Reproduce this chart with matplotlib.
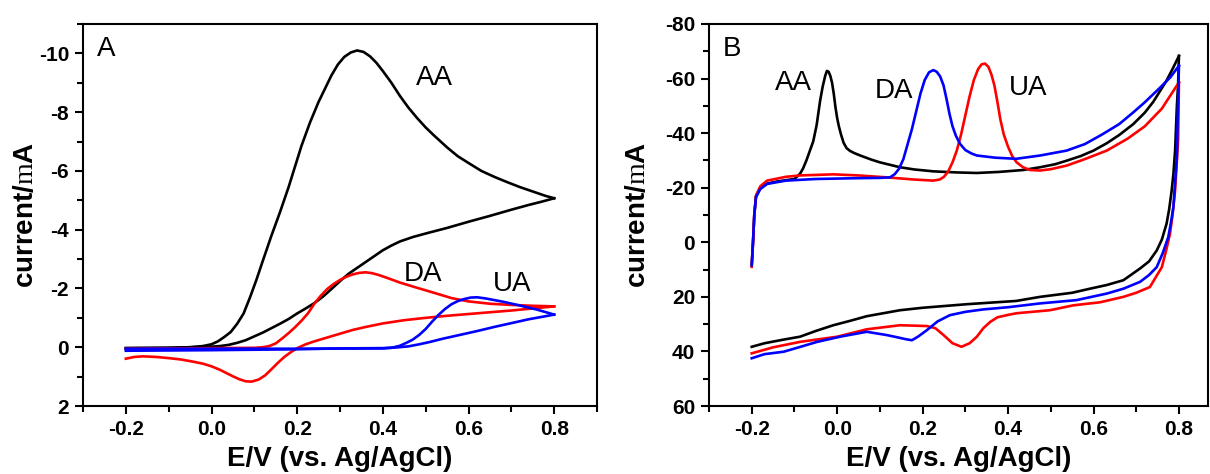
import numpy as np
import matplotlib
matplotlib.use("Agg")
import matplotlib.pyplot as plt
from matplotlib.ticker import FixedLocator, FormatStrFormatter

plt.rcParams['font.family'] = ['Liberation Sans', 'DejaVu Sans']
plt.rcParams['axes.unicode_minus'] = False
plt.rcParams['mathtext.fontset'] = 'custom'
plt.rcParams['mathtext.rm'] = 'Liberation Serif'

# ---------------- Panel A data (E/V, current) ----------------
a_aa_fwd_x = [-0.20, -0.10, -0.05, -0.02, 0.00, 0.015, 0.03, 0.045, 0.06, 0.075, 0.09, 0.105, 0.12, 0.14,
              0.16, 0.18, 0.195, 0.21, 0.23, 0.25, 0.265, 0.28, 0.295, 0.31, 0.325, 0.34, 0.355, 0.37,
              0.385, 0.40, 0.42, 0.44, 0.46, 0.48, 0.50, 0.52, 0.55, 0.575, 0.60, 0.63, 0.66, 0.69, 0.72,
              0.75, 0.78, 0.80]
a_aa_fwd_y = [0.03, 0.02, 0.0, -0.04, -0.1, -0.2, -0.35, -0.52, -0.8, -1.15, -1.7, -2.3, -2.95, -3.8,
              -4.6, -5.45, -6.15, -6.85, -7.65, -8.35, -8.8, -9.25, -9.62, -9.88, -10.03, -10.1, -10.05, -9.9,
              -9.68, -9.4, -9.0, -8.55, -8.15, -7.8, -7.48, -7.2, -6.8, -6.5, -6.27, -6.0, -5.8, -5.62, -5.45,
              -5.3, -5.15, -5.07]
a_aa_rev_x = [0.80, 0.77, 0.74, 0.70, 0.65, 0.60, 0.55, 0.50, 0.47, 0.44, 0.42, 0.40, 0.38, 0.36, 0.34,
              0.32, 0.30, 0.28, 0.26, 0.24, 0.22, 0.20, 0.18, 0.16, 0.14, 0.12, 0.10, 0.08, 0.06, 0.04,
              0.02, 0.0, -0.1, -0.2]
a_aa_rev_y = [-5.07, -4.95, -4.84, -4.68, -4.47, -4.27, -4.06, -3.87, -3.75, -3.6, -3.46, -3.3, -3.1, -2.9,
              -2.7, -2.5, -2.25, -1.98, -1.72, -1.5, -1.32, -1.15, -0.96, -0.8, -0.65, -0.5, -0.37, -0.24,
              -0.15, -0.08, -0.04, -0.02, 0.02, 0.03]

a_da_fwd_x = [-0.20, 0.00, 0.10, 0.12, 0.135, 0.15, 0.165, 0.18, 0.195, 0.21, 0.225, 0.24, 0.255, 0.27,
              0.285, 0.30, 0.315, 0.33, 0.345, 0.36, 0.375, 0.39, 0.41, 0.44, 0.476, 0.52, 0.561, 0.60,
              0.65, 0.70, 0.75, 0.80]
a_da_fwd_y = [0.05, 0.03, 0.02, 0.0, -0.04, -0.13, -0.3, -0.48, -0.68, -0.9, -1.15, -1.48, -1.75, -1.98,
              -2.15, -2.29, -2.4, -2.48, -2.53, -2.55, -2.52, -2.46, -2.36, -2.2, -2.04, -1.85, -1.67, -1.56,
              -1.48, -1.44, -1.41, -1.39]
a_da_rev_x = [0.80, 0.75, 0.70, 0.65, 0.60, 0.55, 0.50, 0.45, 0.40, 0.36, 0.33, 0.30, 0.27, 0.24, 0.22,
              0.20, 0.185, 0.17, 0.155, 0.14, 0.125, 0.11, 0.094, 0.08, 0.065, 0.05, 0.035, 0.02, 0.0,
              -0.02, -0.04, -0.07, -0.10, -0.13, -0.16, -0.18, -0.20]
a_da_rev_y = [-1.39, -1.32, -1.25, -1.19, -1.13, -1.07, -1.0, -0.92, -0.81, -0.69, -0.59, -0.46, -0.33,
              -0.2, -0.1, 0.03, 0.17, 0.33, 0.53, 0.75, 0.96, 1.1, 1.17, 1.16, 1.09, 0.99, 0.88, 0.77, 0.65,
              0.56, 0.5, 0.42, 0.37, 0.33, 0.31, 0.33, 0.39]

a_ua_fwd_x = [-0.20, 0.00, 0.20, 0.40, 0.42, 0.44, 0.455, 0.47, 0.485, 0.50, 0.515, 0.53, 0.545, 0.56,
              0.575, 0.59, 0.605, 0.62, 0.64, 0.68, 0.72, 0.76, 0.80]
a_ua_fwd_y = [0.05, 0.05, 0.05, 0.04, 0.02, -0.05, -0.15, -0.26, -0.42, -0.62, -0.87, -1.1, -1.3, -1.46,
              -1.57, -1.64, -1.69, -1.7, -1.66, -1.55, -1.42, -1.28, -1.11]
a_ua_rev_x = [0.80, 0.77, 0.74, 0.70, 0.66, 0.62, 0.58, 0.54, 0.51, 0.485, 0.46, 0.43, 0.40, 0.30, 0.20,
              0.00, -0.20]
a_ua_rev_y = [-1.11, -1.03, -0.95, -0.82, -0.69, -0.55, -0.42, -0.29, -0.18, -0.1, -0.03, 0.01, 0.03, 0.04,
              0.07, 0.10, 0.12]

# ---------------- Panel B data (E/V, current) ----------------
b_aa_fwd_x = [-0.200, -0.197, -0.194, -0.190, -0.180, -0.164, -0.14, -0.10, -0.087, -0.080, -0.072, -0.064,
              -0.056, -0.048, -0.040, -0.034, -0.028, -0.024, -0.020, -0.016, -0.012, -0.008, -0.004, 0.0,
              0.004, 0.009, 0.015, 0.022, 0.03, 0.04, 0.054, 0.08, 0.10, 0.147, 0.18, 0.225, 0.28, 0.327,
              0.38, 0.436, 0.475, 0.51, 0.537, 0.57, 0.60, 0.631, 0.66, 0.693, 0.72, 0.74, 0.756, 0.77,
              0.785, 0.80]
b_aa_fwd_y = [8.4, 0, -10, -17, -20, -21.5, -22.3, -23.2, -25.1, -27, -30, -33.5,
              -37, -43, -51.8, -57, -61, -62.8, -62.5, -61, -58.5, -54.5, -49.5, -45.5,
              -42.5, -39.5, -36.5, -34.5, -33.5, -32.7, -31.8, -30.3, -29.3, -27.5, -26.7, -26.0, -25.6, -25.4,
              -25.8, -26.5, -27.5, -28.6, -29.9, -31.6, -33.6, -36.3, -39.3, -43.3, -47.5, -51.5, -55.5, -59,
              -63.5, -68.3]
b_aa_rev_x = [0.80, 0.798, 0.795, 0.791, 0.787, 0.783, 0.777, 0.771, 0.76, 0.748, 0.73, 0.709, 0.67, 0.63,
              0.592, 0.55, 0.475, 0.419, 0.303, 0.20, 0.147, 0.069, 0.03, -0.009, -0.05, -0.087, -0.13,
              -0.17, -0.20]
b_aa_rev_y = [-68.3, -58, -49.4, -33.6, -25, -19, -12, -6.8, -1, 3, 7, 9.6, 13.9, 15.7,
              17, 18.5, 20, 21.5, 22.7, 24, 24.9, 27.1, 28.8, 30.4, 32.5, 34.6, 35.8,
              37, 38.3]

b_da_fwd_x = [-0.200, -0.197, -0.194, -0.190, -0.180, -0.164, -0.12, -0.05, 0.05, 0.10, 0.124, 0.135,
              0.145, 0.155, 0.165, 0.175, 0.185, 0.195, 0.205, 0.215, 0.225, 0.233, 0.241, 0.249, 0.256,
              0.263, 0.27, 0.278, 0.288, 0.30, 0.315, 0.327, 0.37, 0.419, 0.475, 0.537, 0.58, 0.62, 0.66,
              0.693, 0.72, 0.756, 0.78, 0.80]
b_da_fwd_y = [8.4, 0, -10, -16.5, -19.5, -21.4, -22.6, -23.2, -23.5, -23.6, -23.8, -25,
              -27, -30.5, -36, -41.5, -48, -54.5, -59.5, -62.3, -63.1, -62.5, -60.8, -57.5, -52.5,
              -47, -42.5, -39, -36, -33.8, -32.5, -31.8, -31, -30.6, -31.8, -33.6, -36, -39.5, -43.3,
              -47.6, -51.3, -56.7, -60.5, -64.7]
b_da_rev_x = [0.80, 0.797, 0.795, 0.791, 0.787, 0.781, 0.775, 0.762, 0.748, 0.73, 0.709, 0.67, 0.631, 0.56,
              0.475, 0.40, 0.342, 0.30, 0.264, 0.235, 0.21, 0.19, 0.175, 0.16, 0.14, 0.116, 0.069, 0.007,
              -0.047, -0.09, -0.125, -0.17, -0.20]
b_da_rev_y = [-64.7, -45, -31.1, -22, -12.9, -7, -1.9, 4, 9.1, 12, 14.5, 17, 18.8, 21.2,
              22.4, 23.8, 24.6, 25.5, 26.7, 29, 32.2, 34.5, 35.9, 35.5, 34.8, 34, 32.8, 34.6,
              36.5, 38.5, 40.1, 41, 42.5]

b_ua_fwd_x = [-0.200, -0.197, -0.194, -0.190, -0.180, -0.164, -0.12, -0.087, -0.009, 0.05, 0.116, 0.18,
              0.225, 0.24, 0.25, 0.26, 0.27, 0.28, 0.29, 0.30, 0.31, 0.32, 0.33, 0.338, 0.346, 0.354,
              0.361, 0.368, 0.375, 0.382, 0.39, 0.40, 0.41, 0.42, 0.435, 0.451, 0.475, 0.50, 0.537, 0.58,
              0.631, 0.68, 0.72, 0.76, 0.787, 0.80]
b_ua_fwd_y = [9, 0, -10, -17, -20.5, -22.6, -24, -24.5, -24.9, -24.5, -23.8, -23,
              -22.6, -23, -24, -26, -29.3, -33.6, -39.5, -46.5, -53.5, -59.5, -63.5, -65.2, -65.5, -64.3,
              -61.5, -57.5, -51.5, -45, -39.5, -35, -31.5, -29.3, -27.5, -26.5, -26.3, -26.8, -28.1, -30.5,
              -33.6, -38, -42.5, -49, -55.5, -58.6]
b_ua_rev_x = [0.80, 0.798, 0.791, 0.785, 0.779, 0.77, 0.76, 0.745, 0.732, 0.70, 0.67, 0.615, 0.553, 0.498,
              0.42, 0.397, 0.375, 0.358, 0.342, 0.327, 0.31, 0.291, 0.27, 0.249, 0.23, 0.21, 0.147, 0.069,
              0.0, -0.087, -0.15, -0.20]
b_ua_rev_y = [-58.6, -37.2, -19, -10, -3.1, 3, 9.1, 13, 16.4, 18.5, 20, 22, 23.1, 24.9,
              26, 26.7, 27.5, 29.2, 31.5, 34.6, 37, 38.3, 37, 34, 31.5, 30.7, 30.4, 31.9,
              34.6, 36.5, 38.5, 40.7]

x_major = [-0.2, 0.0, 0.2, 0.4, 0.6, 0.8]
x_minor = [-0.3, -0.1, 0.1, 0.3, 0.5, 0.7, 0.9]
a_y_major = [2, 0, -2, -4, -6, -8, -10]
a_y_minor = [1, -1, -3, -5, -7, -9, -11]
b_y_major = [60, 40, 20, 0, -20, -40, -60, -80]
b_y_minor = [50, 30, 10, -10, -30, -50, -70]

BLACK, RED, BLUE = '#000000', '#ff0000', '#0000ff'
LW = 1.9

W, H = 1210, 474
fig = plt.figure(figsize=(W / 100, H / 100), dpi=100)
axA = fig.add_axes([83 / W, 1 - 406 / H, (597 - 83) / W, (406 - 24) / H])
axB = fig.add_axes([709 / W, 1 - 406 / H, (1208 - 709) / W, (406 - 24) / H])

for xs, ys, c in [(a_aa_fwd_x, a_aa_fwd_y, BLACK), (a_aa_rev_x, a_aa_rev_y, BLACK),
                  (a_da_fwd_x, a_da_fwd_y, RED), (a_da_rev_x, a_da_rev_y, RED),
                  (a_ua_fwd_x, a_ua_fwd_y, BLUE), (a_ua_rev_x, a_ua_rev_y, BLUE)]:
    axA.plot(xs, ys, color=c, lw=LW, solid_joinstyle='round')

for xs, ys, c in [(b_aa_fwd_x, b_aa_fwd_y, BLACK), (b_aa_rev_x, b_aa_rev_y, BLACK),
                  (b_ua_fwd_x, b_ua_fwd_y, RED), (b_ua_rev_x, b_ua_rev_y, RED),
                  (b_da_fwd_x, b_da_fwd_y, BLUE), (b_da_rev_x, b_da_rev_y, BLUE)]:
    axB.plot(xs, ys, color=c, lw=LW, solid_joinstyle='round')

axA.set_xlim(-0.3, 0.9)
axA.set_ylim(2, -11)
axB.set_xlim(-0.3, 0.868)
axB.set_ylim(60, -80)

for ax, ymaj, ymin, ypad in [(axA, a_y_major, a_y_minor, 0), (axB, b_y_major, b_y_minor, 10)]:
    ax.xaxis.set_major_locator(FixedLocator(x_major))
    ax.xaxis.set_minor_locator(FixedLocator(x_minor))
    ax.yaxis.set_major_locator(FixedLocator(ymaj))
    ax.yaxis.set_minor_locator(FixedLocator(ymin))
    ax.xaxis.set_major_formatter(FormatStrFormatter('%.1f'))
    ax.yaxis.set_major_formatter(FormatStrFormatter('%d'))
    for s in ax.spines.values():
        s.set_linewidth(1.5)
    ax.tick_params(which='major', direction='out', length=6, width=1.5, top=False, right=False,
                   labelsize=15, pad=4)
    ax.tick_params(which='minor', direction='out', length=4, width=1.5, top=False, right=False)
    for lab in ax.get_xticklabels() + ax.get_yticklabels():
        lab.set_fontweight('bold')
    ax.set_xlabel('E/V (vs. Ag/AgCl)', fontsize=20, fontweight='bold', labelpad=5)
    ax.set_ylabel('current/$\\mathrm{m}$A', fontsize=20, fontweight='bold', labelpad=ypad)

# panel letters and peak labels
axA.text(0.027, 0.935, 'A', transform=axA.transAxes, fontsize=20, ha='left', va='center')
axB.text(0.028, 0.935, 'B', transform=axB.transAxes, fontsize=20, ha='left', va='center')

axA.text(0.521, -9.15, 'AA', fontsize=20, ha='center', va='center')
axA.text(0.493, -2.5, 'DA', fontsize=20, ha='center', va='center')
axA.text(0.702, -2.14, 'UA', fontsize=20, ha='center', va='center')

axB.text(-0.102, -58.4, 'AA', fontsize=20, ha='center', va='center')
axB.text(0.133, -55.5, 'DA', fontsize=20, ha='center', va='center')
axB.text(0.446, -56.6, 'UA', fontsize=20, ha='center', va='center')

fig.savefig('out.png', dpi=100)
